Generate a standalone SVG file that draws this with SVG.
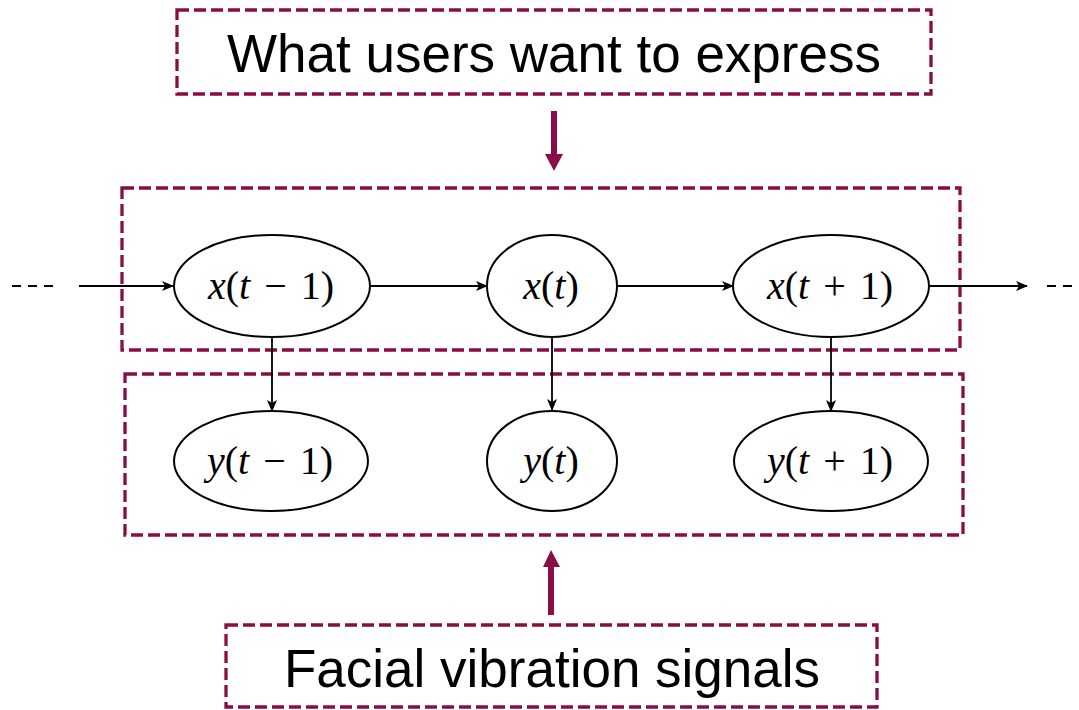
<svg xmlns="http://www.w3.org/2000/svg" width="1079" height="710" viewBox="0 0 1079 710">
<style>
.box{fill:none;stroke:#8b0d45;stroke-width:3.3;stroke-dasharray:12 5}
.node{fill:#fff;stroke:#000;stroke-width:2}
.edge{stroke:#000;stroke-width:1.8;fill:none}
.big{stroke:#8b0d45;stroke-width:6;fill:none}
.lbl{font-family:"Liberation Sans",Arial,sans-serif;font-size:53px;fill:#000;text-anchor:middle}
.m{font-family:"Liberation Serif","Times New Roman",serif;font-size:40px;fill:#000;text-anchor:middle;word-spacing:4px}
.i{font-style:italic}
</style>
<defs>
<marker id="ah" markerWidth="12" markerHeight="10" refX="11" refY="5" orient="auto" markerUnits="userSpaceOnUse">
<path d="M0,0 L12,5 L0,10 L3,5 Z" fill="#000"/>
</marker>
</defs>
<g id="frames">
<rect id="box-express" class="box" x="177" y="10" width="754" height="84"/>
<rect id="box-x" class="box" x="122" y="188" width="838" height="162"/>
<rect id="box-y" class="box" x="125" y="374" width="838" height="161"/>
<rect id="box-signals" class="box" x="226" y="625" width="651" height="82"/>
</g>
<g id="labels">
<text class="lbl" x="554" y="72">What users want to express</text>
<text class="lbl" x="552" y="687">Facial vibration signals</text>
</g>
<g id="connectors">
<path class="edge" d="M12,286 H54" stroke-dasharray="9 7"/>
<path class="edge" d="M79,286 H173" marker-end="url(#ah)"/>
<path class="edge" d="M370,286 H487" marker-end="url(#ah)"/>
<path class="edge" d="M617,286 H733" marker-end="url(#ah)"/>
<path class="edge" d="M930,286 H1027" marker-end="url(#ah)"/>
<path class="edge" d="M1047,286 H1079" stroke-dasharray="9 7"/>
<path class="edge" d="M272,337 V411" marker-end="url(#ah)"/>
<path class="edge" d="M552,337 V410" marker-end="url(#ah)"/>
<path class="edge" d="M831,337 V411" marker-end="url(#ah)"/>
<path class="big" d="M554,111 V156"/>
<path d="M545,154 L563,154 L554,171 Z" fill="#8b0d45"/>
<path class="big" d="M551,615 V565"/>
<path d="M543,567 L560,567 L551,550 Z" fill="#8b0d45"/>
</g>
<g id="node-x-tm1">
<ellipse class="node" cx="272" cy="286" rx="98" ry="51"/>
<text class="m" x="271" y="299"><tspan class="i">x</tspan>(<tspan class="i">t</tspan> − 1)</text>
</g>
<g id="node-x-t">
<ellipse class="node" cx="552" cy="286" rx="65" ry="51"/>
<text class="m" x="551" y="299"><tspan class="i">x</tspan>(<tspan class="i">t</tspan>)</text>
</g>
<g id="node-x-tp1">
<ellipse class="node" cx="831" cy="286" rx="98" ry="51"/>
<text class="m" x="830" y="299"><tspan class="i">x</tspan>(<tspan class="i">t</tspan> + 1)</text>
</g>
<g id="node-y-tm1">
<ellipse class="node" cx="271" cy="461" rx="97" ry="50"/>
<text class="m" x="270" y="474"><tspan class="i">y</tspan>(<tspan class="i">t</tspan> − 1)</text>
</g>
<g id="node-y-t">
<ellipse class="node" cx="552" cy="461" rx="65" ry="50"/>
<text class="m" x="551" y="474"><tspan class="i">y</tspan>(<tspan class="i">t</tspan>)</text>
</g>
<g id="node-y-tp1">
<ellipse class="node" cx="831" cy="461" rx="97" ry="50"/>
<text class="m" x="830" y="474"><tspan class="i">y</tspan>(<tspan class="i">t</tspan> + 1)</text>
</g>
</svg>
